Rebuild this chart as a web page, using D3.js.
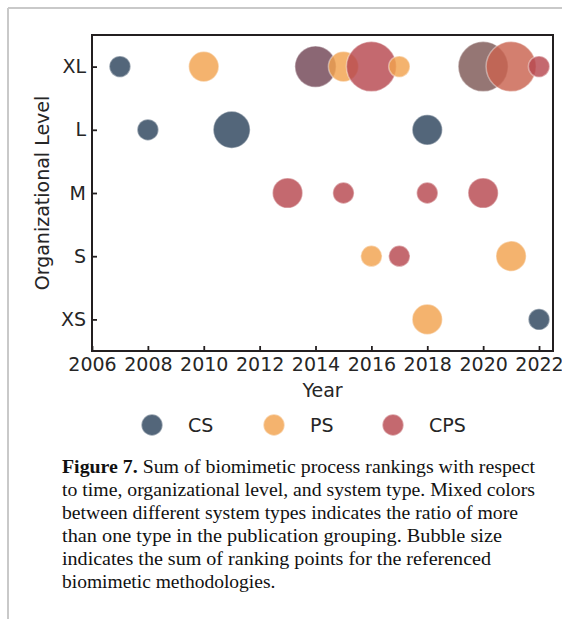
<!DOCTYPE html>
<html>
<head>
<meta charset="utf-8">
<script src="https://cdn.jsdelivr.net/npm/d3@7"></script>
<style>
  html, body { margin: 0; padding: 0; background: #fff; }
  svg { display: block; }
</style>
</head>
<body>
<svg id="chart" width="562" height="619"></svg>
<script>
// ---------------- data ----------------
const levels = ["XS", "S", "M", "L", "XL"];
const xTicks = [2006, 2008, 2010, 2012, 2014, 2016, 2018, 2020, 2022];
const types = ["CS", "PS", "CPS"];

const years      = [2007, 2010, 2014, 2015, 2016, 2017, 2020, 2021, 2022,
                    2008, 2011, 2018,
                    2013, 2015, 2018, 2020,
                    2016, 2017, 2021,
                    2018, 2022];
const bubbleLevels = ["XL","XL","XL","XL","XL","XL","XL","XL","XL",
                      "L","L","L",
                      "M","M","M","M",
                      "S","S","S",
                      "XS","XS"];
const csPoints   = [2, 0, 3.75, 0, 0, 0, 5.5, 0, 0,
                    2, 6, 4,
                    0, 0, 0, 0,
                    0, 0, 0,
                    0, 2];
const psPoints   = [0, 4, 0, 4, 0, 2, 2.2, 3.3, 0,
                    0, 0, 0,
                    0, 0, 0, 0,
                    2, 0, 4,
                    4, 0];
const cpsPoints  = [0, 0, 3.75, 0, 11, 0, 3.3, 7.7, 2,
                    0, 0, 0,
                    4, 2, 2, 4,
                    0, 2, 0,
                    0, 0];

const captionLines = [
  ["Figure 7.", " Sum of biomimetic process rankings with respect"],
  ["", "to time, organizational level, and system type. Mixed colors"],
  ["", "between different system types indicates the ratio of more"],
  ["", "than one type in the publication grouping. Bubble size"],
  ["", "indicates the sum of ranking points for the referenced"],
  ["", "biomimetic methodologies."]
];

// ---------------- styles ----------------
const apparent = { CS: [83, 102, 122], PS: [244, 179, 110], CPS: [196, 105, 111] };
const alpha = 0.82;
function fillFor(shares) {
  const tot = shares.reduce((a, b) => a + b, 0);
  const rgb = [0, 1, 2].map(i =>
    types.reduce((s, t, k) => s + apparent[t][i] * shares[k] / tot, 0));
  const c = rgb.map(v => Math.max(0, Math.min(255, Math.round((v - (1 - alpha) * 255) / alpha))));
  return `rgb(${c[0]},${c[1]},${c[2]})`;
}

const svg = d3.select("#chart");
const font = "'DejaVu Sans', sans-serif";
const textCol = "#262626";

// page border (L shape)
svg.append("line").attr("x1", 8).attr("y1", 8).attr("x2", 562).attr("y2", 8)
  .attr("stroke", "#c9c9c9").attr("stroke-width", 2);
svg.append("line").attr("x1", 8).attr("y1", 8).attr("x2", 8).attr("y2", 619)
  .attr("stroke", "#c9c9c9").attr("stroke-width", 2);

const mLeft = 92, mRight = 553, mTop = 35, mBottom = 351;
const x = d3.scaleLinear().domain([2006, 2022.5]).range([mLeft, mRight]);
const y = d3.scaleLinear().domain([-0.5, levels.length - 0.5]).range([mBottom, mTop]);
const r = d3.scaleSqrt().domain([0, 11]).range([0, 25]);

// bubbles
const data = years.map((yr, i) => ({
  year: yr, level: bubbleLevels[i],
  shares: [csPoints[i], psPoints[i], cpsPoints[i]],
  total: csPoints[i] + psPoints[i] + cpsPoints[i]
}));

const plot = svg.append("g");
plot.selectAll("circle").data(data).join("circle")
  .attr("cx", d => x(d.year))
  .attr("cy", d => y(levels.indexOf(d.level)))
  .attr("r", d => r(d.total))
  .attr("fill", d => fillFor(d.shares))
  .attr("fill-opacity", alpha)
  .attr("stroke", "#ffffff")
  .attr("stroke-opacity", 0.4)
  .attr("stroke-width", 1.5);

// axes
const xAxis = d3.axisBottom(x).tickValues(xTicks).tickFormat(d3.format("d"))
  .tickSizeInner(-5).tickSizeOuter(0).tickPadding(7);
const gx = svg.append("g").attr("transform", `translate(0,${mBottom})`).call(xAxis);
gx.select(".domain").remove();
gx.selectAll(".tick line").attr("stroke", "#231f20").attr("stroke-width", 1.8);
gx.selectAll(".tick text").attr("font-family", font).attr("font-size", 19).attr("fill", textCol);

const yAxis = d3.axisLeft(y).tickValues(d3.range(levels.length)).tickFormat(i => levels[i])
  .tickSizeInner(-5).tickSizeOuter(0).tickPadding(6);
const gy = svg.append("g").attr("transform", `translate(${mLeft},0)`).call(yAxis);
gy.select(".domain").remove();
gy.selectAll(".tick line").attr("stroke", "#231f20").attr("stroke-width", 1.8);
gy.selectAll(".tick text").attr("font-family", font).attr("font-size", 19).attr("fill", textCol);

// frame
svg.append("rect").attr("x", mLeft).attr("y", mTop)
  .attr("width", mRight - mLeft).attr("height", mBottom - mTop)
  .attr("fill", "none").attr("stroke", "#231f20").attr("stroke-width", 2);

// axis titles
svg.append("text").attr("x", (mLeft + mRight) / 2).attr("y", 397)
  .attr("text-anchor", "middle").attr("font-family", font).attr("font-size", 19)
  .attr("fill", textCol).text("Year");
svg.append("text").attr("transform", `translate(49,${(mTop + mBottom) / 2}) rotate(-90)`)
  .attr("text-anchor", "middle").attr("font-family", font).attr("font-size", 19)
  .attr("fill", textCol).text("Organizational Level");

// legend
const legendX = [152, 274, 393];
const lg = svg.append("g");
types.forEach((t, k) => {
  const shares = types.map((_, j) => (j === k ? 1 : 0));
  lg.append("circle").attr("cx", legendX[k]).attr("cy", 425).attr("r", r(2))
    .attr("fill", fillFor(shares)).attr("fill-opacity", alpha)
    .attr("stroke", "#fff").attr("stroke-opacity", 0.4).attr("stroke-width", 1.5);
  lg.append("text").attr("x", legendX[k] + 36).attr("y", 425).attr("dy", "0.36em")
    .attr("font-family", font).attr("font-size", 19).attr("fill", textCol).text(t);
});

// caption
const capRight = [535, 535, 518, 502, 491, null];
const cap = svg.append("g");
captionLines.forEach((ln, i) => {
  const t = cap.append("text").attr("x", 62).attr("y", 473 + i * 23)
    .attr("font-family", "'Liberation Serif', 'DejaVu Serif', serif")
    .attr("font-size", 19.5).attr("fill", "#111");
  if (ln[0]) t.append("tspan").attr("font-weight", "bold").text(ln[0]);
  t.append("tspan").text(ln[1]);
  if (capRight[i]) {
    t.attr("textLength", capRight[i] - 62).attr("lengthAdjust", "spacingAndGlyphs");
  }
});
</script>
</body>
</html>
